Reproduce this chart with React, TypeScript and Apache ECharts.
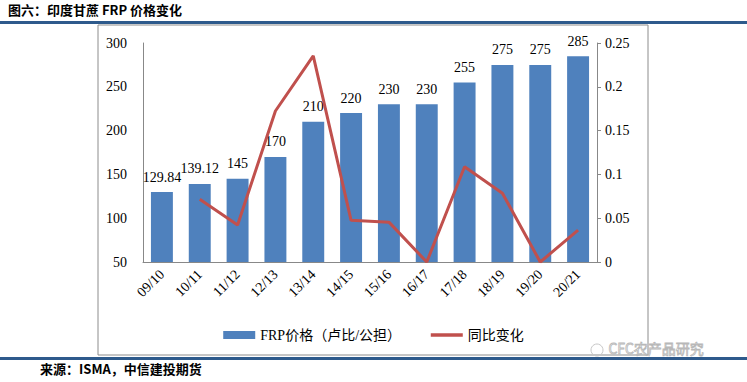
import React, { useEffect, useRef } from "react";
import * as echarts from "echarts";

const categories = ["09/10", "10/11", "11/12", "12/13", "13/14", "14/15", "15/16", "16/17", "17/18", "18/19", "19/20", "20/21"];
const frpPrice = [129.84, 139.12, 145, 170, 210, 220, 230, 230, 255, 275, 275, 285];
const yoyChange = [null, 0.0715, 0.0423, 0.1724, 0.2353, 0.0476, 0.0455, 0, 0.1087, 0.0784, 0, 0.0364];
const leftTicks = { min: 50, max: 300, interval: 50 };
const rightTicks = { min: 0, max: 0.25, interval: 0.05 };

const SERIF = "'Liberation Serif', 'DejaVu Serif', 'Noto Sans CJK SC', serif";
const CJK = "'Noto Sans CJK SC', sans-serif";

export default function App() {
  const ref = useRef<HTMLDivElement>(null);
  useEffect(() => {
    if (!ref.current) return;
    const chart = echarts.init(ref.current, null, { renderer: "svg" });
    chart.setOption({
      animation: false,
      backgroundColor: "#ffffff",
      grid: { left: 143, right: 150, top: 43, bottom: 120, containLabel: false },
      legend: {
        left: "center",
        top: 323,
        itemGap: 28,
        itemWidth: 32,
        itemHeight: 8,
        textStyle: { fontFamily: SERIF, fontSize: 14, color: "#000" },
        data: [
          { name: "FRP价格（卢比/公担）", icon: "rect" },
          { name: "同比变化", itemStyle: { opacity: 0 }, lineStyle: { width: 3.5, color: "#C0504D" } },
        ],
      },
      xAxis: {
        type: "category",
        data: categories,
        axisLine: { lineStyle: { color: "#888888", width: 1 } },
        axisTick: { show: false },
        axisLabel: { rotate: 45, margin: 10, fontFamily: SERIF, fontSize: 14, color: "#000", interval: 0 },
      },
      yAxis: [
        {
          type: "value",
          min: leftTicks.min,
          max: leftTicks.max,
          interval: leftTicks.interval,
          axisLine: { show: true, lineStyle: { color: "#888888" } },
          axisTick: { show: false },
          splitLine: { show: false },
          axisLabel: { fontFamily: SERIF, fontSize: 14, color: "#000", margin: 16 },
        },
        {
          type: "value",
          min: rightTicks.min,
          max: rightTicks.max,
          interval: rightTicks.interval,
          position: "right",
          axisLine: { show: true, lineStyle: { color: "#888888" } },
          axisTick: { show: true, length: 4, inside: false, lineStyle: { color: "#888888" } },
          splitLine: { show: false },
          axisLabel: {
            fontFamily: SERIF,
            fontSize: 14,
            color: "#000",
            margin: 8,
            formatter: (v: number) => String(Math.round(v * 100) / 100),
          },
        },
      ],
      series: [
        {
          name: "FRP价格（卢比/公担）",
          type: "bar",
          data: frpPrice,
          barWidth: "58%",
          itemStyle: { color: "#4F81BD" },
          label: {
            show: true,
            position: "top",
            distance: 8,
            fontFamily: SERIF,
            fontSize: 14,
            color: "#000",
          },
        },
        {
          name: "同比变化",
          type: "line",
          yAxisIndex: 1,
          data: yoyChange,
          symbol: "none",
          lineStyle: { color: "#C0504D", width: 3 },
          itemStyle: { color: "#C0504D" },
          z: 5,
        },
      ],
      graphic: [
        {
          type: "text",
          left: 8,
          top: 3,
          style: { text: "图六：印度甘蔗 FRP 价格变化", font: `bold 13px ${CJK}`, fill: "#000" },
        },
        { type: "rect", shape: { x: 0, y: 21, width: 747, height: 3 }, style: { fill: "#2E5A8C" } },
        { type: "rect", shape: { x: 98, y: 25, width: 550, height: 330 }, style: { fill: "none", stroke: "#8c8c8c", lineWidth: 1 } },
        { type: "rect", shape: { x: 0, y: 357, width: 747, height: 3 }, style: { fill: "#2E5A8C" } },
        {
          type: "text",
          left: 40,
          top: 362,
          style: { text: "来源：ISMA，中信建投期货", font: `bold 13px ${CJK}`, fill: "#000" },
        },
        { type: "circle", shape: { cx: 597, cy: 350, r: 6 }, style: { fill: "none", stroke: "#c8c8c8", lineWidth: 1 } },
        {
          type: "text",
          left: 608,
          top: 341,
          style: { text: "CFC农产品研究", font: `14px ${CJK}`, fill: "none", stroke: "#b8b8b8", lineWidth: 0.8 },
        },
      ],
    });
    return () => chart.dispose();
  }, []);
  return <div ref={ref} style={{ position: "fixed", left: 0, top: 0, width: 747, height: 382 }} />;
}
